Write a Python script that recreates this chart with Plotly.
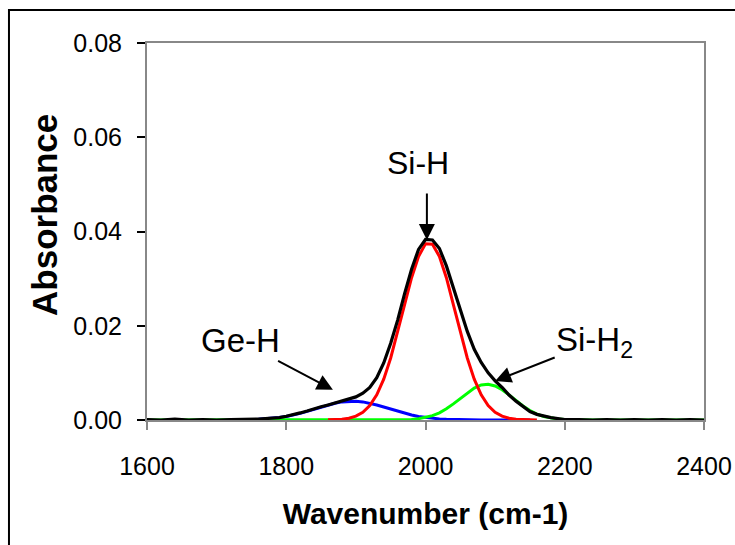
import plotly.graph_objects as go

# Wavenumber grid (cm-1)
wavenumber = [1600, 1620, 1640, 1660, 1680, 1700, 1720, 1740,
              1750, 1760, 1770, 1780, 1790, 1800, 1810, 1820, 1830, 1840,
              1850, 1860, 1870, 1880, 1890, 1900, 1910, 1920, 1930, 1940,
              1950, 1960, 1970, 1980, 1990, 2000, 2010, 2020, 2030, 2040,
              2050, 2060, 2070, 2080, 2090, 2100, 2110, 2120, 2130, 2140,
              2150, 2160, 2170, 2180, 2190, 2200,
              2220, 2240, 2260, 2280, 2300, 2320, 2340, 2360, 2380, 2400]

# Measured absorbance (black)
measured = [0.0001, 0.0000, 0.0002, 0.0000, 0.0001, 0.0000, 0.0001, 0.0001,
            0.0002, 0.0002, 0.0003, 0.0004, 0.0005, 0.0008, 0.0011, 0.0015, 0.0019, 0.0024,
            0.0028, 0.0032, 0.0036, 0.0040, 0.0044, 0.0049, 0.0057, 0.0069, 0.0090, 0.0121,
            0.0163, 0.0212, 0.0268, 0.0320, 0.0362, 0.0383, 0.0382, 0.0364, 0.0327, 0.0281,
            0.0232, 0.0188, 0.0150, 0.0122, 0.0100, 0.0083, 0.0069, 0.0053, 0.0040, 0.0028,
            0.0018, 0.0012, 0.0008, 0.0005, 0.0003, 0.0001,
            0.0001, 0.0000, 0.0001, 0.0000, 0.0001, 0.0000, 0.0001, 0.0000, 0.0001, 0.0000]

# Ge-H component (blue)
ge_h = [None, None, None, None, None, None, None, None,
        None, 0.00014, 0.00022, 0.00035, 0.00052, 0.00075, 0.00105, 0.00141, 0.00183, 0.00229,
        0.00275, 0.00319, 0.00356, 0.00384, 0.00398, 0.00398, 0.00384, 0.00356, 0.00319, 0.00275,
        0.00229, 0.00183, 0.00141, 0.00105, 0.00075, 0.00052, 0.00035, 0.00022, 0.00014, 0.00008,
        0.00005, 0.00003, 0.00001, 0.0, 0.0, 0.0, 0.0, 0.0, 0.0, 0.0,
        0.0, None, None, None, None, None,
        None, None, None, None, None, None, None, None, None, None]

# Si-H component (red)
si_h = [None, None, None, None, None, None, None, None,
        None, None, None, None, None, None, None, None, None, None,
        None, 0.00003, 0.00007, 0.00017, 0.00038, 0.00082, 0.00165, 0.00307, 0.00535, 0.00868,
        0.01316, 0.0186, 0.0245, 0.0302, 0.0347, 0.0374, 0.0373, 0.0347, 0.0302, 0.0245,
        0.0186, 0.01316, 0.00868, 0.00535, 0.00307, 0.00165, 0.00082, 0.00038, 0.00017, 0.00007,
        0.00003, 0.0, None, None, None, None,
        None, None, None, None, None, None, None, None, None, None]

# Si-H2 component (green)
si_h2 = [0.0, 0.0, 0.0, 0.0, 0.0, 0.0, 0.0, 0.0,
         0.0, 0.0, 0.0, 0.0, 0.0, 0.0, 0.0, 0.0, 0.0, 0.0,
         0.0, 0.0, 0.0, 0.0, 0.0, 0.0, 0.0, 0.0, 0.0, 0.0,
         0.0, 0.0, 0.00006, 0.00013, 0.00027, 0.00052, 0.00092, 0.00153, 0.00237, 0.00342,
         0.00461, 0.00579, 0.00679, 0.00743, 0.0076, 0.00723, 0.00643, 0.00533, 0.00413, 0.00298,
         0.00201, 0.00126, 0.00074, 0.00041, 0.00021, 0.0001,
         0.0, 0.0, 0.0, 0.0, 0.0, 0.0, 0.0, 0.0, 0.0, 0.0]

x_ticks = [1600, 1800, 2000, 2200, 2400]
y_ticks = [0.00, 0.02, 0.04, 0.06, 0.08]

FONT = "Arial, 'Liberation Sans', sans-serif"

fig = go.Figure()
fig.add_trace(go.Scatter(x=wavenumber, y=ge_h, mode="lines",
                         line=dict(color="#0000FF", width=3), name="Ge-H"))
fig.add_trace(go.Scatter(x=wavenumber, y=si_h2, mode="lines",
                         line=dict(color="#00FF00", width=3), name="Si-H2"))
fig.add_trace(go.Scatter(x=wavenumber, y=si_h, mode="lines",
                         line=dict(color="#FF0000", width=3), name="Si-H"))
fig.add_trace(go.Scatter(x=wavenumber, y=measured, mode="lines",
                         line=dict(color="#000000", width=3.2), name="Measured"))

fig.update_layout(
    width=735, height=545,
    margin=dict(l=147, r=31, t=43, b=125),
    paper_bgcolor="white", plot_bgcolor="white",
    showlegend=False,
    font=dict(family=FONT, color="black"),
)

fig.update_xaxes(
    range=[1600, 2400], tickvals=x_ticks, ticktext=[str(v) for v in x_ticks],
    ticks="outside", ticklen=8, tickwidth=2, tickcolor="#888888",
    showline=True, linecolor="#888888", linewidth=2, mirror=True,
    showgrid=False, zeroline=False, automargin=False,
    tickfont=dict(size=25, family=FONT, color="black"),
    ticklabelstandoff=15,
    title=dict(text="<b>Wavenumber (cm-1)</b>", standoff=24,
               font=dict(size=30, family=FONT, color="black")),
)
fig.update_yaxes(
    range=[0, 0.08], tickvals=y_ticks, tickformat=".2f",
    ticks="outside", ticklen=8, tickwidth=2, tickcolor="#000000",
    showline=True, linecolor="#888888", linewidth=2, mirror=True,
    showgrid=False, zeroline=False, automargin=False,
    tickfont=dict(size=25, family=FONT, color="black"),
    ticklabelstandoff=10,
)

annotations = [
    # y axis title
    dict(text="<b>Absorbance</b>", xref="paper", yref="paper", x=-0.183, y=0.544,
         xanchor="center", yanchor="middle", textangle=-90, showarrow=False,
         font=dict(size=35, family=FONT, color="black")),
    # Si-H label and its vertical arrow
    dict(text="Si-H", x=1989, y=0.0545, xref="x", yref="y", showarrow=False,
         xanchor="center", yanchor="middle", font=dict(size=32, family=FONT, color="black")),
    dict(text="&nbsp;", x=2002, y=0.0382, ax=2002, ay=0.0484, xref="x", yref="y",
         axref="x", ayref="y", showarrow=True, arrowhead=2, arrowsize=1.6,
         arrowwidth=2, arrowcolor="black", borderpad=0, font=dict(size=2)),
    # Ge-H label with arrow
    dict(text="Ge-H", x=1867, y=0.0064, ax=1734, ay=0.0168, xref="x", yref="y",
         axref="x", ayref="y", showarrow=True, arrowhead=2, arrowsize=1.6,
         arrowwidth=2, arrowcolor="black",
         font=dict(size=33, family=FONT, color="black")),
    # Si-H2 label with arrow
    dict(text="Si-H<sub>2</sub>", x=2100, y=0.0083, ax=2243, ay=0.0166, xref="x", yref="y",
         axref="x", ayref="y", showarrow=True, arrowhead=2, arrowsize=1.6,
         arrowwidth=2, arrowcolor="black",
         font=dict(size=33, family=FONT, color="black")),
]
fig.update_layout(annotations=annotations)

# outer chart border (top and left visible)
fig.add_shape(type="rect", xref="paper", yref="paper",
              x0=-0.2478, x1=1.1, y0=-0.6, y1=1.0875,
              line=dict(color="black", width=2), fillcolor="rgba(0,0,0,0)")

fig.write_html("out.html")
